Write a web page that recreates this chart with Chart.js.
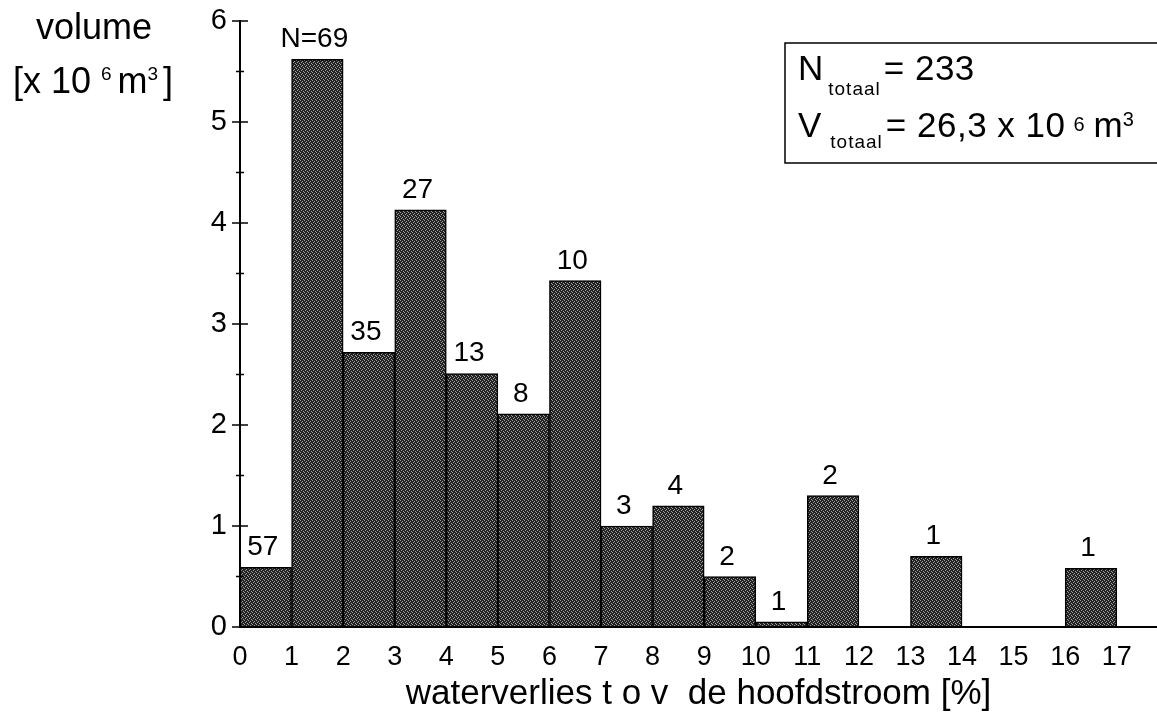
<!DOCTYPE html>
<html>
<head>
<meta charset="utf-8">
<title>Waterverlies t.o.v. de hoofdstroom</title>
<script src="https://cdn.jsdelivr.net/npm/chart.js@4.4.1/dist/chart.umd.min.js"></script>
<style>
  html, body { margin: 0; padding: 0; background: #fff; }
  canvas { display: block; }
</style>
</head>
<body>
<canvas id="volumeChart" width="1157" height="718"></canvas>
<script>
// Klassen waterverlies (%), ondergrens van elke klasse
const binStart = [0, 1, 2, 3, 4, 5, 6, 7, 8, 9, 10, 11, 12, 13, 14, 15, 16];
// Volume per klasse [x 10^6 m3]
const volume = [0.59, 5.62, 2.72, 4.13, 2.51, 2.11, 3.43, 1.00, 1.20, 0.50, 0.05, 1.30, 0, 0.70, 0, 0, 0.58];
// Aantal per klasse (label boven de staaf)
const counts = ['57', 'N=69', '35', '27', '13', '8', '10', '3', '4', '2', '1', '2', '', '1', '', '', '1'];
// Asindeling
const xTicks = [0, 1, 2, 3, 4, 5, 6, 7, 8, 9, 10, 11, 12, 13, 14, 15, 16, 17];
const yTicks = [0, 1, 2, 3, 4, 5, 6];
const nTotaal = '233';
const vTotaal = '26,3';

const FONT = '"Liberation Sans", Arial, Helvetica, sans-serif';

// stippled fill like the old raster print
function stipple() {
    const c = document.createElement('canvas');
    c.width = 4; c.height = 4;
    const g = c.getContext('2d');
    g.fillStyle = '#222';
    g.fillRect(0, 0, 4, 4);
    g.fillStyle = '#a0a0a0';
    [[0, 0], [2, 1], [1, 2], [3, 3]].forEach(function (p) { g.fillRect(p[0], p[1], 1, 1); });
    return g.createPattern(c, 'repeat');
}

// draws a line of text made of runs (sub/superscripts)
function drawRuns(ctx, x, y, runs, align) {
    let total = 0;
    runs.forEach(function (r) {
        ctx.font = r.size + 'px ' + FONT;
        ctx.letterSpacing = (r.spacing || 0) + 'px';
        r.w = ctx.measureText(r.text).width;
        total += (r.gap || 0) + r.w;
    });
    let cx = align === 'center' ? x - total / 2 : x;
    ctx.textAlign = 'left';
    ctx.textBaseline = 'alphabetic';
    runs.forEach(function (r) {
        ctx.font = r.size + 'px ' + FONT;
        ctx.letterSpacing = (r.spacing || 0) + 'px';
        cx += r.gap || 0;
        ctx.fillText(r.text, cx, y + (r.dy || 0));
        cx += r.w;
    });
    ctx.letterSpacing = '0px';
}

const decorations = {
    id: 'decorations',
    afterDatasetsDraw(chart) {
        const ctx = chart.ctx;
        const meta = chart.getDatasetMeta(0);
        ctx.save();
        ctx.fillStyle = '#000';
        ctx.font = '28px ' + FONT;
        ctx.textAlign = 'center';
        ctx.textBaseline = 'alphabetic';
        meta.data.forEach(function (bar, i) {
            if (counts[i]) ctx.fillText(counts[i], bar.x - 3, bar.y - 12);
        });
        ctx.restore();
    },
    afterDraw(chart) {
        const ctx = chart.ctx;
        const y = chart.scales.y;
        const x0 = chart.chartArea.left;
        ctx.save();
        ctx.strokeStyle = '#000';
        ctx.lineWidth = 1.5;
        // y ticks cross the axis, half-steps are shorter
        y.ticks.forEach(function (t) {
            const py = y.getPixelForValue(t.value);
            const len = Number.isInteger(t.value) ? 8 : 4;
            ctx.beginPath();
            ctx.moveTo(x0 - len, py);
            ctx.lineTo(x0 + len, py);
            ctx.stroke();
        });

        // y-axis title
        ctx.fillStyle = '#000';
        drawRuns(ctx, 94, 39, [{ text: 'volume', size: 36 }], 'center');
        drawRuns(ctx, 93, 93, [
            { text: '[x 10', size: 36 },
            { text: '6', size: 19, dy: -13, gap: 10 },
            { text: 'm', size: 36, gap: 6 },
            { text: '3', size: 19, dy: -13, gap: 0 },
            { text: ']', size: 36, gap: 5 }
        ], 'center');

        // totals box
        ctx.lineWidth = 1.5;
        ctx.beginPath();
        ctx.moveTo(1160, 43);
        ctx.lineTo(785, 43);
        ctx.lineTo(785, 163);
        ctx.lineTo(1160, 163);
        ctx.stroke();
        drawRuns(ctx, 798, 80, [
            { text: 'N', size: 35 },
            { text: 'totaal', size: 19, dy: 15, gap: 5, spacing: 1 },
            { text: '= ' + nTotaal, size: 35, gap: 3, spacing: 0.5 }
        ], 'left');
        drawRuns(ctx, 798, 137, [
            { text: 'V', size: 35 },
            { text: 'totaal', size: 19, dy: 11, gap: 9, spacing: 1 },
            { text: '= ' + vTotaal + ' x 10', size: 35, gap: 3, spacing: 0.5 },
            { text: '6', size: 20, dy: -6, gap: 8 },
            { text: 'm', size: 35, gap: 9 },
            { text: '3', size: 20, dy: -11, gap: 0 }
        ], 'left');
        ctx.restore();
    }
};

const ctx = document.getElementById('volumeChart').getContext('2d');
new Chart(ctx, {
    type: 'bar',
    data: {
        datasets: [{
            label: 'volume',
            data: binStart.map(function (b, i) { return { x: b + 0.5, y: volume[i] }; }),
            backgroundColor: stipple(),
            borderColor: '#000',
            borderWidth: 1.5,
            borderSkipped: false,
            barPercentage: 1,
            categoryPercentage: 1
        }]
    },
    options: {
        responsive: false,
        animation: false,
        layout: { padding: { top: 21, left: 0, right: 0, bottom: 0 } },
        scales: {
            x: {
                type: 'linear',
                offset: false,
                min: 0,
                max: 17.78,
                grid: { display: false, drawTicks: false },
                border: { display: true, color: '#000', width: 2 },
                ticks: {
                    stepSize: 1,
                    includeBounds: false,
                    autoSkip: false,
                    maxRotation: 0,
                    padding: 14,
                    color: '#000',
                    font: { family: FONT, size: 27 },
                    callback: function (v) { return xTicks.includes(v) ? String(v) : ''; }
                },
                title: {
                    display: true,
                    text: 'waterverlies t o v  de hoofdstroom [%]',
                    color: '#000',
                    font: { family: FONT, size: 35 },
                    padding: { top: 0, bottom: 3 }
                },
                afterFit: function (s) { s.height = 91; s.paddingLeft = 0; s.paddingRight = 0; }
            },
            y: {
                min: 0,
                max: 6,
                grid: { display: false, drawTicks: false },
                border: { display: true, color: '#000', width: 2 },
                ticks: {
                    stepSize: 0.5,
                    padding: 13,
                    color: '#000',
                    font: { family: FONT, size: 29 },
                    callback: function (v) { return yTicks.includes(v) ? String(v) : ''; }
                },
                afterFit: function (s) { s.width = 240; s.paddingTop = 0; s.paddingBottom = 0; }
            }
        },
        plugins: {
            legend: { display: false },
            tooltip: { enabled: false }
        }
    },
    plugins: [decorations]
});
</script>
</body>
</html>
